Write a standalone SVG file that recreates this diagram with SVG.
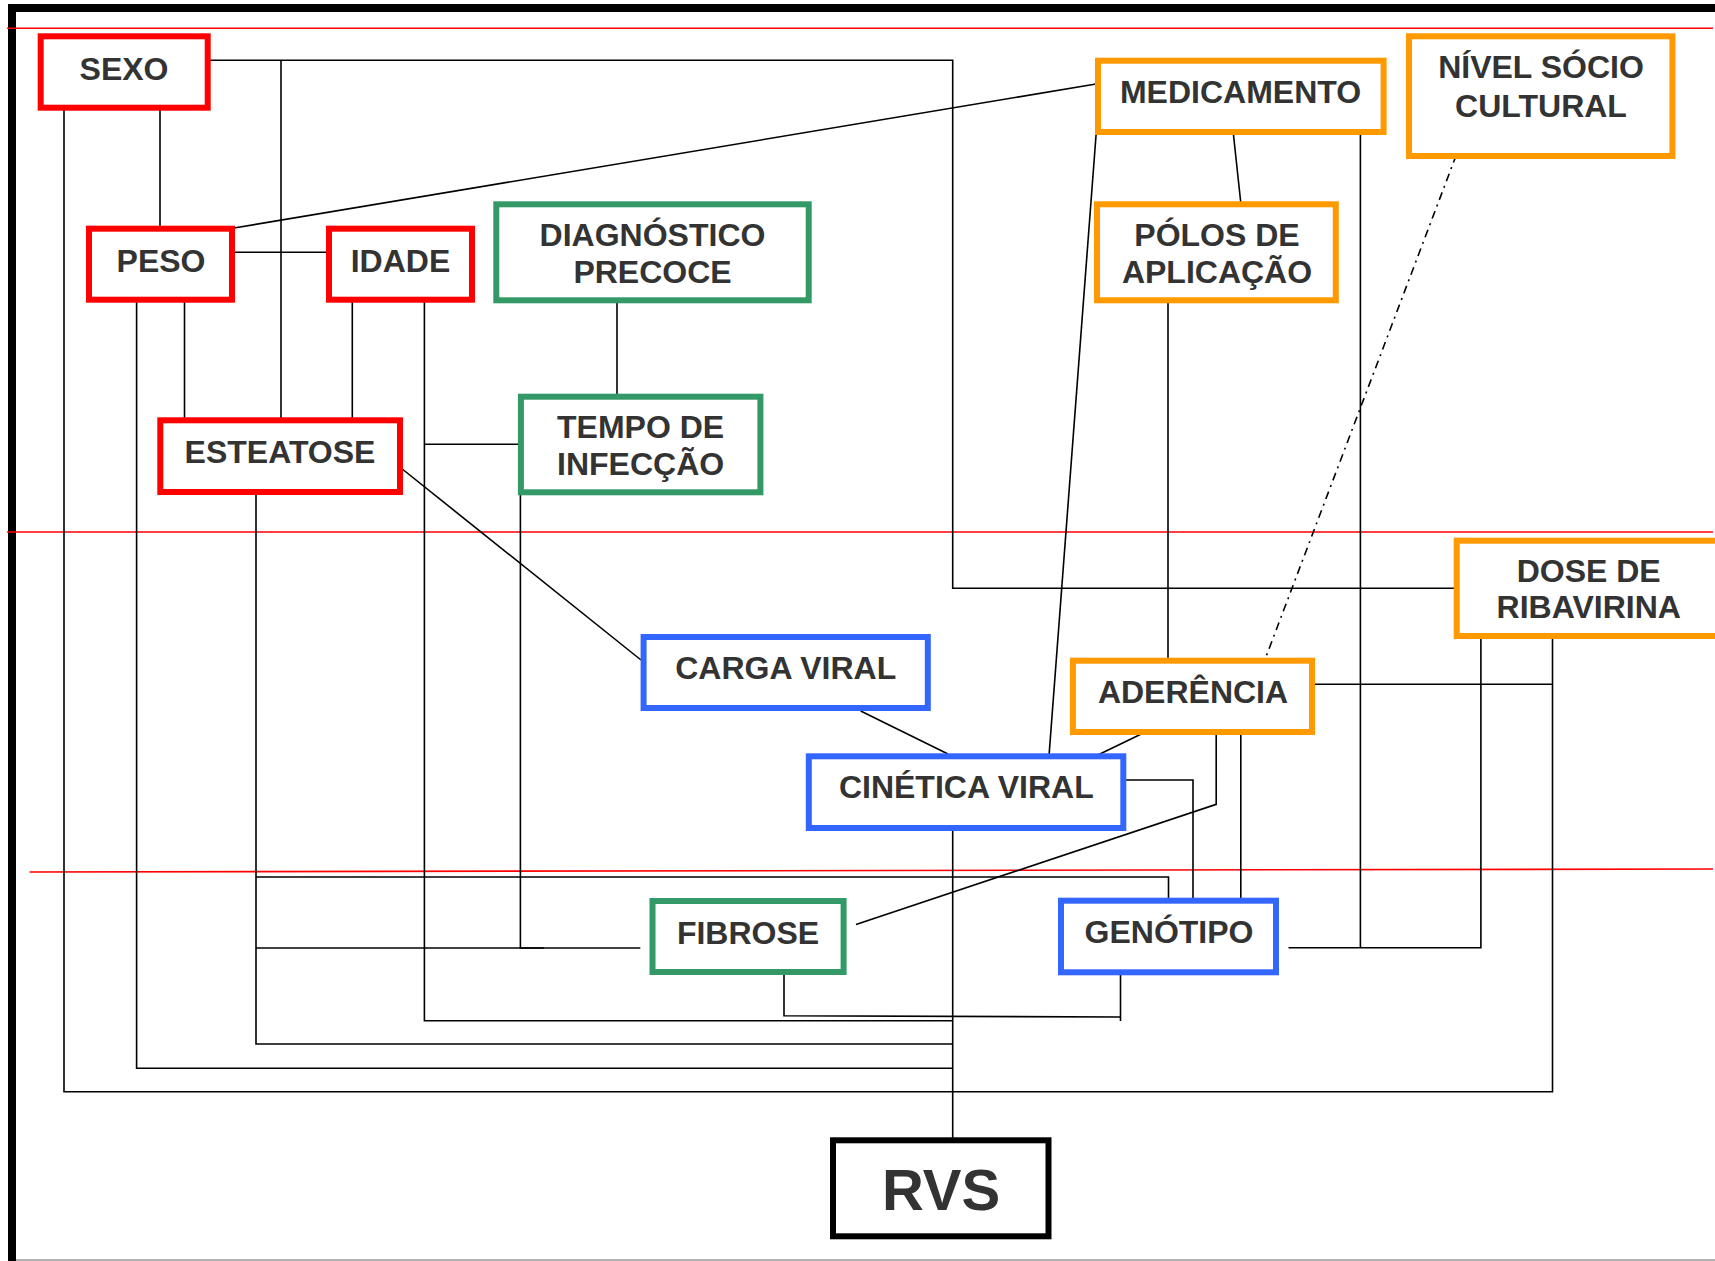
<svg xmlns="http://www.w3.org/2000/svg" width="1715" height="1261" viewBox="0 0 1715 1261">
<style>
.box{fill:#fff;stroke-width:6}
.r{stroke:#ff0000}.g{stroke:#339966}.o{stroke:#ff9900}.b{stroke:#3366ff}.k{stroke:#000}
.t{font-family:"Liberation Sans",Arial,sans-serif;font-weight:bold;font-size:32px;fill:#333;text-anchor:middle}
.c{fill:none;stroke:#000;stroke-width:1.6}
.red{stroke:#ff0000;stroke-width:1.6;fill:none}
</style>
<rect width="1715" height="1261" fill="#fff"/>
<g id="frame">
<line x1="8" y1="8" x2="1715" y2="8" stroke="#000" stroke-width="8"/>
<line x1="12" y1="4" x2="12" y2="1261" stroke="#000" stroke-width="8"/>
<line x1="16" y1="1260" x2="1715" y2="1260" stroke="#999" stroke-width="1.5"/>
<line class="red" x1="7" y1="28.3" x2="1713" y2="28.3"/>
<line class="red" x1="7" y1="532" x2="1713" y2="532"/>
<line class="red" x1="29.6" y1="872" x2="1713" y2="869"/>
</g>
<g id="connectors">
<polyline class="c" points="208,60.3 952.7,60.3 952.7,588.3 1457,588.3"/>
<line class="c" x1="281" y1="60.3" x2="281" y2="419"/>
<polyline class="c" points="64,110 64,1091.7 1552.5,1091.7 1552.5,639"/>
<line class="c" x1="160" y1="110" x2="160" y2="226"/>
<line class="c" x1="232" y1="252.3" x2="329" y2="252.3"/>
<line class="c" x1="234" y1="228" x2="1096" y2="84"/>
<polyline class="c" points="136.6,302 136.6,1068.3 953,1068.3"/>
<line class="c" x1="184.5" y1="302" x2="184.5" y2="418"/>
<line class="c" x1="352.3" y1="302" x2="352.3" y2="418"/>
<polyline class="c" points="424.4,302 424.4,1020.7 953,1020.7"/>
<line class="c" x1="424.4" y1="444.3" x2="518" y2="444.3"/>
<line class="c" x1="617" y1="303" x2="617" y2="394"/>
<line class="c" x1="401" y1="468" x2="641" y2="660"/>
<polyline class="c" points="256,495 256,1044 953,1044"/>
<polyline class="c" points="256,877 1168.5,877 1168.5,898"/>
<line class="c" x1="256" y1="948" x2="640.3" y2="948"/>
<polyline class="c" points="520.4,495 520.4,948 544,948"/>
<polyline class="c" points="784,975 784,1015.7 1120.5,1017"/>
<line class="c" x1="1120.5" y1="975" x2="1120.5" y2="1021"/>
<polyline class="c" points="856,924.5 1216.2,804.3 1216.2,732"/>
<line class="c" x1="952.7" y1="831" x2="952.7" y2="1138"/>
<line class="c" x1="860.7" y1="711" x2="948" y2="754"/>
<line class="c" x1="1145.4" y1="732" x2="1095.8" y2="756"/>
<line class="c" x1="1096.3" y1="131.7" x2="1049" y2="756"/>
<line class="c" x1="1233.5" y1="135" x2="1240.7" y2="202"/>
<line class="c" x1="1168" y1="303" x2="1168" y2="660"/>
<line class="c" x1="1360.4" y1="131.7" x2="1360.4" y2="948"/>
<polyline class="c" points="1288.5,947.7 1480.9,947.7 1480.9,636"/>
<polyline class="c" points="1120.5,780 1193,780 1193,899"/>
<line class="c" x1="1240.8" y1="732" x2="1240.8" y2="899"/>
<line class="c" x1="1315" y1="684.3" x2="1552.5" y2="684.3"/>
<line class="c" x1="1456.3" y1="155" x2="1266.3" y2="656" stroke-dasharray="8,5,2,5"/>
</g>
<g id="sexo"><rect class="box r" x="40.7" y="36.3" width="167" height="71.4"/><text class="t" x="124" y="80">SEXO</text></g>
<g id="peso"><rect class="box r" x="89" y="228.7" width="143" height="71"/><text class="t" x="161" y="271.7">PESO</text></g>
<g id="idade"><rect class="box r" x="329" y="228.7" width="143" height="71"/><text class="t" x="400.5" y="271.7">IDADE</text></g>
<g id="diagnostico"><rect class="box g" x="496.3" y="204.3" width="312.4" height="96"/><text class="t" x="652.5" y="246">DIAGNÓSTICO</text><text class="t" x="652.5" y="282.7">PRECOCE</text></g>
<g id="tempo"><rect class="box g" x="520.9" y="396.7" width="239.5" height="95.6"/><text class="t" x="640.6" y="438.3">TEMPO DE</text><text class="t" x="640.6" y="475">INFECÇÃO</text></g>
<g id="esteatose"><rect class="box r" x="160.3" y="420.3" width="239.7" height="71.7"/><text class="t" x="280" y="463.3">ESTEATOSE</text></g>
<g id="medicamento"><rect class="box o" x="1098" y="60.7" width="285.6" height="71.3"/><text class="t" x="1240.5" y="103.3">MEDICAMENTO</text></g>
<g id="nivel"><rect class="box o" x="1409" y="36.3" width="263.4" height="119.7"/><text class="t" x="1541" y="78.3">NÍVEL SÓCIO</text><text class="t" x="1541" y="116.7">CULTURAL</text></g>
<g id="polos"><rect class="box o" x="1097" y="204.3" width="238.8" height="96"/><text class="t" x="1217" y="246">PÓLOS DE</text><text class="t" x="1217" y="282.7">APLICAÇÃO</text></g>
<g id="dose"><rect class="box o" x="1456.7" y="540.7" width="264" height="95.3"/><text class="t" x="1588.7" y="581.7">DOSE DE</text><text class="t" x="1588.7" y="618.3">RIBAVIRINA</text></g>
<g id="carga"><rect class="box b" x="643.6" y="637" width="284.2" height="71"/><text class="t" x="785.7" y="679.3">CARGA VIRAL</text></g>
<g id="cinetica"><rect class="box b" x="808.8" y="756.3" width="314.5" height="71.7"/><text class="t" x="966.3" y="798.3">CINÉTICA VIRAL</text></g>
<g id="aderencia"><rect class="box o" x="1072.9" y="660.7" width="239.1" height="71.3"/><text class="t" x="1193" y="703.3">ADERÊNCIA</text></g>
<g id="fibrose"><rect class="box g" x="652.5" y="901" width="191.1" height="71"/><text class="t" x="748" y="944.3">FIBROSE</text></g>
<g id="genotipo"><rect class="box b" x="1061" y="900.7" width="215" height="71.6"/><text class="t" x="1169" y="943.3">GENÓTIPO</text></g>
<g id="rvs"><rect class="box k" x="833" y="1140.3" width="215.5" height="96"/><text class="t" x="941" y="1209.5" style="font-size:58px">RVS</text></g>
</svg>
